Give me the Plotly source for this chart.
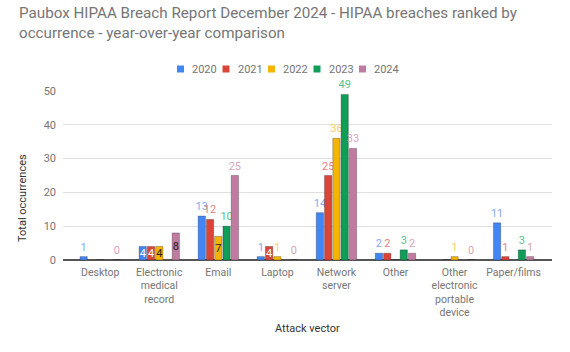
import plotly.graph_objects as go

categories = ["Desktop", "Electronic<br>medical<br>record", "Email", "Laptop",
              "Network<br>server", "Other", "Other<br>electronic<br>portable<br>device", "Paper/films"]
years = ["2020", "2021", "2022", "2023", "2024"]
v2020 = [1, 4, 13, 1, 14, 2, None, 11]
v2021 = [None, 4, 12, 4, 25, 2, 0, 1]
v2022 = [0, 4, 7, 1, 36, 0, 1, None]
v2023 = [None, None, 10, None, 49, 3, None, 3]
v2024 = [0, 8, 25, 0, 33, 2, 0, 1]
# which labels are shown (some zero-height bars carry no label in the original)
t2020 = ["1", "4", "13", "1", "14", "2", "", "11"]
t2021 = ["", "4", "12", "4", "25", "2", "", "1"]
t2022 = ["", "4", "7", "1", "36", "", "1", ""]
t2023 = ["", "", "10", "", "49", "3", "", "3"]
t2024 = ["0", "8", "25", "0", "33", "2", "0", "1"]
inside2020 = [False, True, False, False, False, False, False, False]
inside2021 = [False, True, False, True, False, False, False, False]
inside2022 = [False, True, True, False, False, False, False, False]
inside2023 = [False] * 8
inside2024 = [False, True, False, False, False, False, False, False]

colors = ["#4285F4", "#DB4437", "#F4B400", "#0F9D58", "#C27BA0"]
label_colors = ["#7FAAF7", "#E8807A", "#F7CE63", "#5DBE8F", "#D7A5C0"]
inside_text_colors = ["#FFFFFF", "#FFFFFF", "#222222", "#FFFFFF", "#222222"]

series = [v2020, v2021, v2022, v2023, v2024]
texts = [t2020, t2021, t2022, t2023, t2024]
insides = [inside2020, inside2021, inside2022, inside2023, inside2024]

# plot area in pixels
L, R, T, B = 63, 552, 91, 260
W, H = R - L, B - T
def px(x):
    return (x - L) / W
def py(y):
    return (B - y) / H

fig = go.Figure()
for i, y in enumerate(years):
    pos = ["inside" if f else "outside" for f in insides[i]]
    tc = [inside_text_colors[i] if f else label_colors[i] for f in insides[i]]
    fig.add_trace(go.Bar(
        x=categories, y=series[i], name=y,
        marker=dict(color=colors[i], line=dict(color="rgba(0,0,0,0.25)", width=1)),
        text=texts[i], textposition=pos,
        insidetextanchor="middle",
        textfont=dict(size=11, color=tc, family="Roboto"),
        cliponaxis=False, showlegend=False,
    ))

# legend (drawn manually to match compact spacing)
for i, y in enumerate(years):
    x0 = 177 + i * 45.5
    fig.add_shape(type="rect", xref="paper", yref="paper",
                  x0=px(x0), x1=px(x0 + 7), y0=py(72.5), y1=py(65.5),
                  fillcolor=colors[i], line=dict(width=0))
    fig.add_annotation(text=y, xref="paper", yref="paper", x=px(x0 + 13), y=py(69),
                       xanchor="left", yanchor="middle", showarrow=False,
                       font=dict(size=11, color="#757575"))

fig.update_layout(
    width=570, height=352,
    margin=dict(l=L, r=570 - R, t=T, b=352 - B),
    paper_bgcolor="white", plot_bgcolor="white",
    barmode="group", bargap=0.3, bargroupgap=0.12,
    font=dict(family="Roboto", color="#757575"),
    title=dict(
        text="Paubox HIPAA Breach Report December 2024 - HIPAA breaches ranked by<br>occurrence - year-over-year comparison",
        x=19 / 570, xanchor="left", y=1 - 18 / 352, yanchor="top",
        font=dict(size=15.2, color="#757575", family="Roboto"),
    ),
    showlegend=False,
    uniformtext=dict(minsize=8, mode="show"),
)
fig.update_xaxes(range=[-0.63, 7.65], showgrid=False, tickfont=dict(size=10.5, color="#757575"),
                 ticks="", showline=False, ticklabelstandoff=4)
fig.update_yaxes(range=[0, 50], dtick=10, gridcolor="#E0E0E0", zeroline=True,
                 zerolinecolor="#555555", zerolinewidth=1.5,
                 tickfont=dict(size=11, color="#757575"), ticklabelstandoff=6)
fig.add_annotation(text="Attack vector", xref="paper", yref="paper", x=0.5, y=py(328),
                   showarrow=False, yanchor="middle", font=dict(size=11, color="#333333"))
fig.add_annotation(text="Total occurrences", xref="paper", yref="paper",
                   x=px(22), y=py(198), textangle=-90, showarrow=False,
                   font=dict(size=11, color="#333333"), xanchor="center", yanchor="middle")
fig.write_html("out.html")
